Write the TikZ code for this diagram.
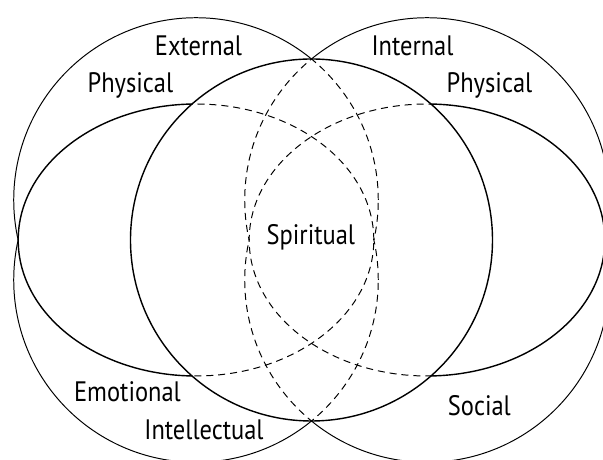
\documentclass[tikz,border=0pt]{standalone}
\usepackage{fontspec}
\setmainfont{PT Sans}[FakeStretch=0.87]
\begin{document}
\begin{tikzpicture}[scale=0.025,
  outline/.style={line width=.7pt},
  lens/.style={line width=1pt},
  hidden/.style={line width=.7pt,dash pattern=on 5pt off 3.5pt},
  label/.style={font=\fontsize{20}{24}\selectfont,anchor=base,inner sep=0pt}]
\useasboundingbox (-311.5,-220) rectangle (291.5,240);
% outer caps: upper halves of the top circles, lower halves of the bottom ones
\begin{scope}
\clip (-320,0) rectangle (300,250);
\foreach \x in {-115.5,115.5}{\draw[outline] (\x,40) circle (182.27);}
\end{scope}
\begin{scope}
\clip (-320,0) rectangle (300,-250);
\foreach \x in {-115.5,115.5}{\draw[outline] (\x,-40) circle (182.27);}
\end{scope}
% the two lenses, left and right
\foreach \x in {-115.5,115.5}{\draw[lens] (\x,0) ellipse [x radius=177.8,y radius=136];}
% whatever runs inside the middle circle is dashed
\fill[white] (0,0) circle (181);
\begin{scope}
\clip (0,0) circle (181);
\begin{scope}
\clip (-320,0) rectangle (300,250);
\foreach \x in {-115.5,115.5}{\draw[hidden] (\x,40) circle (182.27);}
\end{scope}
\begin{scope}
\clip (-320,0) rectangle (300,-250);
\foreach \x in {-115.5,115.5}{\draw[hidden] (\x,-40) circle (182.27);}
\end{scope}
\foreach \x in {-115.5,115.5}{\draw[hidden] (\x,0) ellipse [x radius=177.8,y radius=136];}
\end{scope}
\draw[lens] (0,0) circle (181);
% labels
\node[label] (extphys1) at (-113,184) {External};
\node[label] (extphys2) at (-181.1,147) {Physical};
\node[label] (intphys1) at (101,184) {Internal};
\node[label] (intphys2) at (178,147) {Physical};
\node[label] (spirit) at (-0.6,-5) {Spiritual};
\node[label] (emot) at (-184,-161.7) {Emotional};
\node[label] (intel) at (-107.5,-200) {Intellectual};
\node[label] (social) at (167.9,-176) {Social};
\end{tikzpicture}
\end{document}
